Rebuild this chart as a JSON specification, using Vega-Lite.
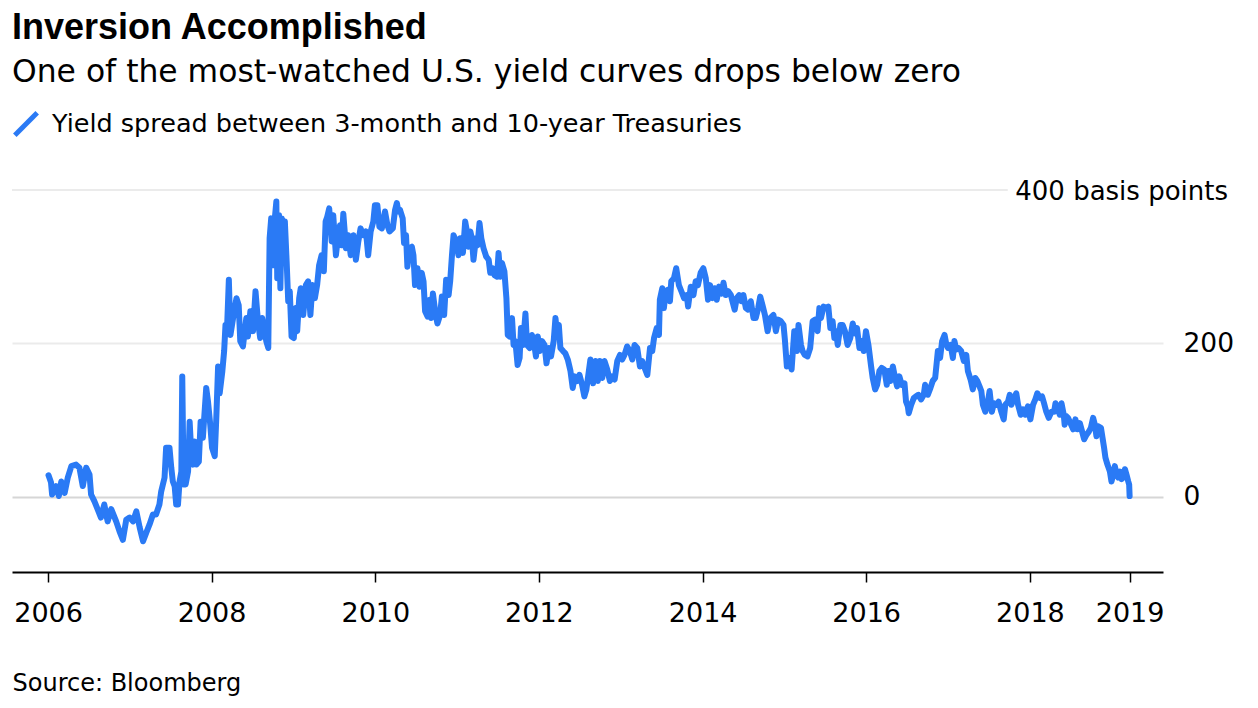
{
  "$schema": "https://vega.github.io/schema/vega-lite/v6.json",
  "width": 1151,
  "height": 382,
  "autosize": {"type": "none"},
  "padding": {"left": 12, "top": 190, "right": 95, "bottom": 136},
  "background": "white",
  "title": {
    "text": "Inversion Accomplished",
    "subtitle": "One of the most-watched U.S. yield curves drops below zero",
    "anchor": "start",
    "frame": "group",
    "font": "Liberation Sans",
    "fontSize": 36,
    "fontWeight": "bold",
    "color": "#000000",
    "subtitleFont": "DejaVu Sans",
    "subtitleFontSize": 31.4,
    "subtitleColor": "#000000",
    "subtitlePadding": 10,
    "offset": 21
  },
  "config": {"view": {"stroke": null}},
  "data": {
    "values": [
      {"d": "2006-01-03", "v": 28}, {"d": "2006-01-14", "v": 19}, {"d": "2006-01-19", "v": 3}, {"d": "2006-02-06", "v": 14}, {"d": "2006-02-18", "v": 1}, {"d": "2006-03-01", "v": 20}, {"d": "2006-03-16", "v": 5}, {"d": "2006-03-30", "v": 25}, {"d": "2006-04-15", "v": 40}, {"d": "2006-05-06", "v": 42}, {"d": "2006-05-21", "v": 38}, {"d": "2006-06-05", "v": 14}, {"d": "2006-06-20", "v": 38}, {"d": "2006-07-05", "v": 29}, {"d": "2006-07-12", "v": 3}, {"d": "2006-07-27", "v": -6}, {"d": "2006-08-10", "v": -16}, {"d": "2006-08-25", "v": -27}, {"d": "2006-09-09", "v": -10}, {"d": "2006-09-24", "v": -32}, {"d": "2006-10-10", "v": -16}, {"d": "2006-11-01", "v": -32}, {"d": "2006-11-16", "v": -45}, {"d": "2006-12-01", "v": -56}, {"d": "2006-12-16", "v": -30}, {"d": "2006-12-31", "v": -27},
      {"d": "2007-01-15", "v": -32}, {"d": "2007-01-30", "v": -19}, {"d": "2007-02-14", "v": -40}, {"d": "2007-03-01", "v": -58}, {"d": "2007-03-15", "v": -47}, {"d": "2007-03-30", "v": -36}, {"d": "2007-04-14", "v": -23}, {"d": "2007-04-28", "v": -23}, {"d": "2007-05-13", "v": -10}, {"d": "2007-05-21", "v": 7}, {"d": "2007-06-05", "v": 25}, {"d": "2007-06-12", "v": 64}, {"d": "2007-06-27", "v": 64}, {"d": "2007-07-05", "v": 38}, {"d": "2007-07-12", "v": 20}, {"d": "2007-07-20", "v": 14}, {"d": "2007-07-27", "v": -10}, {"d": "2007-08-04", "v": -10}, {"d": "2007-08-11", "v": 20}, {"d": "2007-08-19", "v": 33}, {"d": "2007-08-23", "v": 157}, {"d": "2007-08-29", "v": 16}, {"d": "2007-09-07", "v": 16}, {"d": "2007-09-18", "v": 33}, {"d": "2007-09-25", "v": 98}, {"d": "2007-10-02", "v": 59}, {"d": "2007-10-10", "v": 42}, {"d": "2007-10-17", "v": 72}, {"d": "2007-10-25", "v": 42}, {"d": "2007-11-05", "v": 46}, {"d": "2007-11-13", "v": 98}, {"d": "2007-11-23", "v": 77}, {"d": "2007-12-08", "v": 142}, {"d": "2007-12-16", "v": 124}, {"d": "2007-12-26", "v": 94},
      {"d": "2008-01-03", "v": 64}, {"d": "2008-01-15", "v": 53}, {"d": "2008-01-22", "v": 103}, {"d": "2008-01-30", "v": 170}, {"d": "2008-02-06", "v": 135}, {"d": "2008-02-18", "v": 164}, {"d": "2008-02-26", "v": 190}, {"d": "2008-03-03", "v": 224}, {"d": "2008-03-10", "v": 220}, {"d": "2008-03-18", "v": 283}, {"d": "2008-03-25", "v": 211}, {"d": "2008-04-06", "v": 233}, {"d": "2008-04-21", "v": 259}, {"d": "2008-05-01", "v": 250}, {"d": "2008-05-08", "v": 203}, {"d": "2008-05-20", "v": 196}, {"d": "2008-06-04", "v": 233}, {"d": "2008-06-11", "v": 209}, {"d": "2008-06-22", "v": 242}, {"d": "2008-07-04", "v": 216}, {"d": "2008-07-15", "v": 268}, {"d": "2008-07-26", "v": 229}, {"d": "2008-08-05", "v": 207}, {"d": "2008-08-14", "v": 233}, {"d": "2008-08-25", "v": 216}, {"d": "2008-09-01", "v": 203}, {"d": "2008-09-10", "v": 194}, {"d": "2008-09-16", "v": 337}, {"d": "2008-09-23", "v": 363}, {"d": "2008-10-01", "v": 302}, {"d": "2008-10-08", "v": 359}, {"d": "2008-10-16", "v": 385}, {"d": "2008-10-20", "v": 285}, {"d": "2008-10-28", "v": 367}, {"d": "2008-11-03", "v": 272}, {"d": "2008-11-09", "v": 363}, {"d": "2008-11-17", "v": 320}, {"d": "2008-11-23", "v": 359}, {"d": "2008-12-01", "v": 307}, {"d": "2008-12-08", "v": 255}, {"d": "2008-12-15", "v": 268}, {"d": "2008-12-23", "v": 209},
      {"d": "2009-01-02", "v": 207}, {"d": "2009-01-11", "v": 246}, {"d": "2009-01-17", "v": 216}, {"d": "2009-01-26", "v": 259}, {"d": "2009-02-02", "v": 272}, {"d": "2009-02-13", "v": 237}, {"d": "2009-02-25", "v": 276}, {"d": "2009-03-07", "v": 281}, {"d": "2009-03-17", "v": 237}, {"d": "2009-03-26", "v": 276}, {"d": "2009-04-06", "v": 259}, {"d": "2009-04-16", "v": 276}, {"d": "2009-04-25", "v": 302}, {"d": "2009-05-06", "v": 315}, {"d": "2009-05-16", "v": 294}, {"d": "2009-05-24", "v": 359}, {"d": "2009-05-31", "v": 365}, {"d": "2009-06-09", "v": 376}, {"d": "2009-06-20", "v": 333}, {"d": "2009-06-27", "v": 367}, {"d": "2009-07-09", "v": 315}, {"d": "2009-07-19", "v": 341}, {"d": "2009-07-27", "v": 354}, {"d": "2009-08-03", "v": 328}, {"d": "2009-08-11", "v": 369}, {"d": "2009-08-23", "v": 324}, {"d": "2009-09-02", "v": 341}, {"d": "2009-09-13", "v": 315}, {"d": "2009-09-25", "v": 341}, {"d": "2009-10-06", "v": 309}, {"d": "2009-10-17", "v": 333}, {"d": "2009-10-27", "v": 350}, {"d": "2009-11-08", "v": 341}, {"d": "2009-11-20", "v": 346}, {"d": "2009-11-30", "v": 315}, {"d": "2009-12-11", "v": 346}, {"d": "2009-12-23", "v": 359}, {"d": "2009-12-30", "v": 380},
      {"d": "2010-01-10", "v": 380}, {"d": "2010-01-19", "v": 352}, {"d": "2010-01-30", "v": 350}, {"d": "2010-02-13", "v": 372}, {"d": "2010-02-24", "v": 354}, {"d": "2010-03-05", "v": 346}, {"d": "2010-03-20", "v": 350}, {"d": "2010-03-30", "v": 374}, {"d": "2010-04-07", "v": 383}, {"d": "2010-04-14", "v": 372}, {"d": "2010-04-21", "v": 374}, {"d": "2010-05-03", "v": 363}, {"d": "2010-05-09", "v": 331}, {"d": "2010-05-18", "v": 341}, {"d": "2010-05-24", "v": 300}, {"d": "2010-06-02", "v": 324}, {"d": "2010-06-13", "v": 326}, {"d": "2010-06-20", "v": 315}, {"d": "2010-06-27", "v": 276}, {"d": "2010-07-08", "v": 298}, {"d": "2010-07-17", "v": 274}, {"d": "2010-07-27", "v": 292}, {"d": "2010-08-04", "v": 281}, {"d": "2010-08-11", "v": 242}, {"d": "2010-08-22", "v": 235}, {"d": "2010-08-31", "v": 257}, {"d": "2010-09-07", "v": 233}, {"d": "2010-09-15", "v": 265}, {"d": "2010-09-25", "v": 242}, {"d": "2010-10-05", "v": 226}, {"d": "2010-10-17", "v": 237}, {"d": "2010-10-25", "v": 261}, {"d": "2010-11-04", "v": 237}, {"d": "2010-11-13", "v": 283}, {"d": "2010-11-24", "v": 263}, {"d": "2010-12-01", "v": 281}, {"d": "2010-12-09", "v": 315}, {"d": "2010-12-16", "v": 341}, {"d": "2010-12-28", "v": 333},
      {"d": "2011-01-07", "v": 315}, {"d": "2011-01-15", "v": 337}, {"d": "2011-01-27", "v": 318}, {"d": "2011-02-06", "v": 359}, {"d": "2011-02-14", "v": 346}, {"d": "2011-02-21", "v": 326}, {"d": "2011-03-01", "v": 346}, {"d": "2011-03-08", "v": 337}, {"d": "2011-03-15", "v": 309}, {"d": "2011-03-26", "v": 337}, {"d": "2011-04-02", "v": 328}, {"d": "2011-04-11", "v": 357}, {"d": "2011-04-19", "v": 337}, {"d": "2011-04-29", "v": 324}, {"d": "2011-05-11", "v": 313}, {"d": "2011-05-22", "v": 309}, {"d": "2011-05-29", "v": 292}, {"d": "2011-06-08", "v": 298}, {"d": "2011-06-17", "v": 289}, {"d": "2011-06-28", "v": 287}, {"d": "2011-07-05", "v": 318}, {"d": "2011-07-13", "v": 287}, {"d": "2011-07-20", "v": 305}, {"d": "2011-07-31", "v": 294}, {"d": "2011-08-09", "v": 259}, {"d": "2011-08-15", "v": 211}, {"d": "2011-08-23", "v": 209}, {"d": "2011-09-03", "v": 233}, {"d": "2011-09-10", "v": 198}, {"d": "2011-09-18", "v": 203}, {"d": "2011-09-28", "v": 172}, {"d": "2011-10-07", "v": 181}, {"d": "2011-10-13", "v": 220}, {"d": "2011-10-22", "v": 198}, {"d": "2011-11-02", "v": 239}, {"d": "2011-11-09", "v": 198}, {"d": "2011-11-21", "v": 194}, {"d": "2011-12-01", "v": 211}, {"d": "2011-12-09", "v": 203}, {"d": "2011-12-19", "v": 183}, {"d": "2011-12-27", "v": 209},
      {"d": "2012-01-05", "v": 190}, {"d": "2012-01-15", "v": 203}, {"d": "2012-01-26", "v": 198}, {"d": "2012-02-04", "v": 174}, {"d": "2012-02-14", "v": 194}, {"d": "2012-02-24", "v": 183}, {"d": "2012-03-07", "v": 203}, {"d": "2012-03-15", "v": 233}, {"d": "2012-03-22", "v": 213}, {"d": "2012-03-30", "v": 224}, {"d": "2012-04-06", "v": 194}, {"d": "2012-04-18", "v": 190}, {"d": "2012-04-28", "v": 187}, {"d": "2012-05-09", "v": 179}, {"d": "2012-05-21", "v": 164}, {"d": "2012-05-31", "v": 142}, {"d": "2012-06-09", "v": 157}, {"d": "2012-06-20", "v": 151}, {"d": "2012-06-30", "v": 159}, {"d": "2012-07-12", "v": 146}, {"d": "2012-07-22", "v": 131}, {"d": "2012-07-31", "v": 140}, {"d": "2012-08-11", "v": 164}, {"d": "2012-08-18", "v": 179}, {"d": "2012-08-30", "v": 148}, {"d": "2012-09-10", "v": 177}, {"d": "2012-09-20", "v": 151}, {"d": "2012-09-29", "v": 177}, {"d": "2012-10-10", "v": 155}, {"d": "2012-10-20", "v": 177}, {"d": "2012-11-01", "v": 166}, {"d": "2012-11-13", "v": 151}, {"d": "2012-11-23", "v": 157}, {"d": "2012-12-04", "v": 153}, {"d": "2012-12-16", "v": 177}, {"d": "2012-12-28", "v": 185},
      {"d": "2013-01-07", "v": 179}, {"d": "2013-01-17", "v": 185}, {"d": "2013-01-29", "v": 196}, {"d": "2013-02-10", "v": 190}, {"d": "2013-02-21", "v": 179}, {"d": "2013-03-03", "v": 198}, {"d": "2013-03-15", "v": 194}, {"d": "2013-03-27", "v": 170}, {"d": "2013-04-06", "v": 177}, {"d": "2013-04-17", "v": 168}, {"d": "2013-04-29", "v": 159}, {"d": "2013-05-11", "v": 194}, {"d": "2013-05-21", "v": 190}, {"d": "2013-05-29", "v": 207}, {"d": "2013-06-10", "v": 220}, {"d": "2013-06-20", "v": 211}, {"d": "2013-06-24", "v": 257}, {"d": "2013-07-05", "v": 272}, {"d": "2013-07-12", "v": 246}, {"d": "2013-07-20", "v": 268}, {"d": "2013-07-30", "v": 270}, {"d": "2013-08-08", "v": 255}, {"d": "2013-08-14", "v": 281}, {"d": "2013-08-26", "v": 285}, {"d": "2013-09-05", "v": 298}, {"d": "2013-09-17", "v": 276}, {"d": "2013-09-28", "v": 268}, {"d": "2013-10-10", "v": 259}, {"d": "2013-10-22", "v": 263}, {"d": "2013-10-28", "v": 248}, {"d": "2013-11-09", "v": 274}, {"d": "2013-11-21", "v": 263}, {"d": "2013-12-01", "v": 281}, {"d": "2013-12-11", "v": 276}, {"d": "2013-12-23", "v": 292},
      {"d": "2014-01-04", "v": 298}, {"d": "2014-01-15", "v": 285}, {"d": "2014-01-25", "v": 257}, {"d": "2014-02-03", "v": 276}, {"d": "2014-02-14", "v": 259}, {"d": "2014-02-24", "v": 272}, {"d": "2014-03-05", "v": 257}, {"d": "2014-03-15", "v": 274}, {"d": "2014-03-26", "v": 265}, {"d": "2014-04-04", "v": 279}, {"d": "2014-04-14", "v": 263}, {"d": "2014-04-25", "v": 268}, {"d": "2014-05-07", "v": 263}, {"d": "2014-05-14", "v": 255}, {"d": "2014-05-24", "v": 244}, {"d": "2014-06-02", "v": 259}, {"d": "2014-06-13", "v": 263}, {"d": "2014-06-23", "v": 255}, {"d": "2014-07-02", "v": 263}, {"d": "2014-07-13", "v": 246}, {"d": "2014-07-23", "v": 244}, {"d": "2014-08-04", "v": 255}, {"d": "2014-08-16", "v": 233}, {"d": "2014-08-26", "v": 233}, {"d": "2014-09-06", "v": 246}, {"d": "2014-09-15", "v": 261}, {"d": "2014-09-25", "v": 250}, {"d": "2014-10-06", "v": 237}, {"d": "2014-10-18", "v": 216}, {"d": "2014-10-29", "v": 233}, {"d": "2014-11-13", "v": 237}, {"d": "2014-11-24", "v": 216}, {"d": "2014-12-04", "v": 231}, {"d": "2014-12-16", "v": 229}, {"d": "2014-12-28", "v": 224},
      {"d": "2015-01-03", "v": 205}, {"d": "2015-01-12", "v": 170}, {"d": "2015-01-22", "v": 181}, {"d": "2015-02-02", "v": 166}, {"d": "2015-02-14", "v": 216}, {"d": "2015-02-26", "v": 190}, {"d": "2015-03-05", "v": 224}, {"d": "2015-03-16", "v": 198}, {"d": "2015-03-23", "v": 190}, {"d": "2015-04-02", "v": 185}, {"d": "2015-04-14", "v": 183}, {"d": "2015-04-26", "v": 194}, {"d": "2015-05-07", "v": 229}, {"d": "2015-05-17", "v": 231}, {"d": "2015-05-29", "v": 216}, {"d": "2015-06-06", "v": 246}, {"d": "2015-06-13", "v": 233}, {"d": "2015-06-25", "v": 248}, {"d": "2015-07-05", "v": 246}, {"d": "2015-07-16", "v": 248}, {"d": "2015-07-25", "v": 220}, {"d": "2015-08-04", "v": 229}, {"d": "2015-08-12", "v": 207}, {"d": "2015-08-19", "v": 216}, {"d": "2015-08-27", "v": 198}, {"d": "2015-09-08", "v": 224}, {"d": "2015-09-18", "v": 224}, {"d": "2015-09-28", "v": 216}, {"d": "2015-10-10", "v": 198}, {"d": "2015-10-22", "v": 207}, {"d": "2015-11-02", "v": 226}, {"d": "2015-11-12", "v": 213}, {"d": "2015-11-21", "v": 220}, {"d": "2015-12-02", "v": 194}, {"d": "2015-12-12", "v": 203}, {"d": "2015-12-21", "v": 190}, {"d": "2015-12-31", "v": 216},
      {"d": "2016-01-11", "v": 198}, {"d": "2016-01-23", "v": 170}, {"d": "2016-01-30", "v": 155}, {"d": "2016-02-10", "v": 140}, {"d": "2016-02-19", "v": 146}, {"d": "2016-02-29", "v": 164}, {"d": "2016-03-10", "v": 168}, {"d": "2016-03-22", "v": 166}, {"d": "2016-04-02", "v": 146}, {"d": "2016-04-09", "v": 164}, {"d": "2016-04-18", "v": 151}, {"d": "2016-04-29", "v": 170}, {"d": "2016-05-09", "v": 155}, {"d": "2016-05-18", "v": 144}, {"d": "2016-05-28", "v": 157}, {"d": "2016-06-08", "v": 146}, {"d": "2016-06-20", "v": 148}, {"d": "2016-06-27", "v": 124}, {"d": "2016-07-05", "v": 118}, {"d": "2016-07-09", "v": 109}, {"d": "2016-07-20", "v": 120}, {"d": "2016-08-01", "v": 129}, {"d": "2016-08-11", "v": 131}, {"d": "2016-08-21", "v": 133}, {"d": "2016-09-02", "v": 127}, {"d": "2016-09-14", "v": 133}, {"d": "2016-09-20", "v": 146}, {"d": "2016-10-02", "v": 133}, {"d": "2016-10-14", "v": 142}, {"d": "2016-10-24", "v": 151}, {"d": "2016-11-04", "v": 155}, {"d": "2016-11-16", "v": 190}, {"d": "2016-11-26", "v": 181}, {"d": "2016-12-05", "v": 203}, {"d": "2016-12-16", "v": 211}, {"d": "2016-12-23", "v": 200}, {"d": "2016-12-31", "v": 194},
      {"d": "2017-01-12", "v": 198}, {"d": "2017-01-22", "v": 181}, {"d": "2017-01-29", "v": 203}, {"d": "2017-02-06", "v": 192}, {"d": "2017-02-16", "v": 194}, {"d": "2017-02-28", "v": 190}, {"d": "2017-03-12", "v": 177}, {"d": "2017-03-23", "v": 185}, {"d": "2017-03-30", "v": 164}, {"d": "2017-04-11", "v": 153}, {"d": "2017-04-21", "v": 140}, {"d": "2017-05-02", "v": 155}, {"d": "2017-05-11", "v": 151}, {"d": "2017-05-21", "v": 144}, {"d": "2017-05-29", "v": 138}, {"d": "2017-06-05", "v": 120}, {"d": "2017-06-16", "v": 111}, {"d": "2017-06-25", "v": 120}, {"d": "2017-07-05", "v": 138}, {"d": "2017-07-15", "v": 111}, {"d": "2017-07-24", "v": 122}, {"d": "2017-08-04", "v": 120}, {"d": "2017-08-14", "v": 124}, {"d": "2017-08-26", "v": 111}, {"d": "2017-09-06", "v": 101}, {"d": "2017-09-13", "v": 120}, {"d": "2017-09-25", "v": 124}, {"d": "2017-10-03", "v": 133}, {"d": "2017-10-10", "v": 120}, {"d": "2017-10-20", "v": 127}, {"d": "2017-11-01", "v": 135}, {"d": "2017-11-09", "v": 120}, {"d": "2017-11-21", "v": 107}, {"d": "2017-12-01", "v": 114}, {"d": "2017-12-12", "v": 107}, {"d": "2017-12-23", "v": 118},
      {"d": "2018-01-03", "v": 101}, {"d": "2018-01-15", "v": 120}, {"d": "2018-01-25", "v": 127}, {"d": "2018-02-03", "v": 135}, {"d": "2018-02-14", "v": 129}, {"d": "2018-02-24", "v": 131}, {"d": "2018-03-05", "v": 122}, {"d": "2018-03-15", "v": 111}, {"d": "2018-03-26", "v": 103}, {"d": "2018-04-07", "v": 111}, {"d": "2018-04-19", "v": 111}, {"d": "2018-04-25", "v": 122}, {"d": "2018-05-07", "v": 114}, {"d": "2018-05-14", "v": 107}, {"d": "2018-05-22", "v": 122}, {"d": "2018-06-01", "v": 107}, {"d": "2018-06-05", "v": 94}, {"d": "2018-06-13", "v": 105}, {"d": "2018-06-20", "v": 103}, {"d": "2018-07-01", "v": 96}, {"d": "2018-07-13", "v": 88}, {"d": "2018-07-23", "v": 101}, {"d": "2018-08-01", "v": 88}, {"d": "2018-08-12", "v": 96}, {"d": "2018-08-22", "v": 85}, {"d": "2018-08-31", "v": 75}, {"d": "2018-09-11", "v": 81}, {"d": "2018-09-21", "v": 85}, {"d": "2018-09-30", "v": 90}, {"d": "2018-10-10", "v": 103}, {"d": "2018-10-18", "v": 94}, {"d": "2018-10-25", "v": 79}, {"d": "2018-11-02", "v": 92}, {"d": "2018-11-14", "v": 90}, {"d": "2018-11-21", "v": 77}, {"d": "2018-11-28", "v": 64}, {"d": "2018-12-04", "v": 51}, {"d": "2018-12-13", "v": 42}, {"d": "2018-12-24", "v": 33}, {"d": "2018-12-31", "v": 20},
      {"d": "2019-01-08", "v": 29}, {"d": "2019-01-15", "v": 40}, {"d": "2019-01-23", "v": 29}, {"d": "2019-01-30", "v": 25}, {"d": "2019-02-07", "v": 33}, {"d": "2019-02-14", "v": 23}, {"d": "2019-02-21", "v": 25}, {"d": "2019-03-01", "v": 36}, {"d": "2019-03-08", "v": 29}, {"d": "2019-03-16", "v": 20}, {"d": "2019-03-20", "v": 16}, {"d": "2019-03-22", "v": 1}
    ]
  },
  "layer": [
    {
      "mark": {"type": "line", "strokeWidth": 6, "strokeJoin": "round", "strokeCap": "round", "clip": false},
      "encoding": {
        "x": {
          "field": "d",
          "type": "temporal",
          "scale": {"type": "utc", "domain": [{"year": 2005, "month": 7, "date": 24, "utc": true}, {"year": 2019, "month": 8, "date": 18, "utc": true}]},
          "axis": {
            "orient": "bottom",
            "values": [
              {"year": 2006, "month": 1, "date": 1, "utc": true},
              {"year": 2008, "month": 1, "date": 1, "utc": true},
              {"year": 2010, "month": 1, "date": 1, "utc": true},
              {"year": 2012, "month": 1, "date": 1, "utc": true},
              {"year": 2014, "month": 1, "date": 1, "utc": true},
              {"year": 2016, "month": 1, "date": 1, "utc": true},
              {"year": 2018, "month": 1, "date": 1, "utc": true},
              {"year": 2019, "month": 3, "date": 22, "utc": true}
            ],
            "format": "%Y",
            "grid": false,
            "domainColor": "#000000",
            "domainWidth": 2,
            "tickColor": "#000000",
            "tickWidth": 1.5,
            "tickSize": 10,
            "labelFont": "DejaVu Sans",
            "labelFontSize": 27,
            "labelColor": "#000000",
            "labelPadding": 18,
            "labelFlush": false,
            "labelOverlap": false,
            "title": "Source: Bloomberg",
            "titleFont": "DejaVu Sans",
            "titleFontSize": 24,
            "titleFontWeight": "normal",
            "titleColor": "#000000",
            "titleAnchor": "start",
            "titleAlign": "left",
            "titlePadding": 45
          }
        },
        "y": {
          "field": "v",
          "type": "quantitative",
          "scale": {"domain": [-98, 400], "nice": false, "zero": false},
          "axis": {
            "orient": "right",
            "values": [0, 200],
            "grid": true,
            "gridColor": {"condition": {"test": "datum.value === 0", "value": "#d6d6d6"}, "value": "#ebebeb"},
            "gridWidth": 2,
            "domain": false,
            "ticks": false,
            "tickSize": 0,
            "labelPadding": 20,
            "labelAlign": "left",
            "labelBaseline": "middle",
            "labelFont": "DejaVu Sans",
            "labelFontSize": 26.5,
            "labelColor": "#000000",
            "title": null
          }
        },
        "color": {
          "datum": "Yield spread between 3-month and 10-year Treasuries",
          "scale": {"range": ["#2a7af5"]},
          "legend": {
            "orient": "none",
            "legendX": 0,
            "legendY": -80,
            "title": null,
            "padding": 0,
            "symbolType": "M-1,1L1,-1",
            "symbolStrokeWidth": 5,
            "symbolSize": 500,
            "labelFont": "DejaVu Sans",
            "labelFontSize": 25.5,
            "labelColor": "#000000",
            "labelOffset": 12,
            "labelLimit": 1000
          }
        }
      }
    },
    {
      "data": {"values": [{}]},
      "mark": {"type": "rule", "color": "#ebebeb", "strokeWidth": 2},
      "encoding": {
        "y": {"datum": 400},
        "x": {"datum": {"year": 2005, "month": 7, "date": 24, "utc": true}},
        "x2": {"datum": {"year": 2017, "month": 9, "date": 24, "utc": true}}
      }
    },
    {
      "data": {"values": [{}]},
      "mark": {"type": "text", "text": "400 basis points", "align": "right", "baseline": "middle", "font": "DejaVu Sans", "fontSize": 26, "color": "#000000", "dx": 65, "dy": 2},
      "encoding": {
        "x": {"datum": {"year": 2019, "month": 8, "date": 18, "utc": true}},
        "y": {"datum": 400}
      }
    }
  ]
}
